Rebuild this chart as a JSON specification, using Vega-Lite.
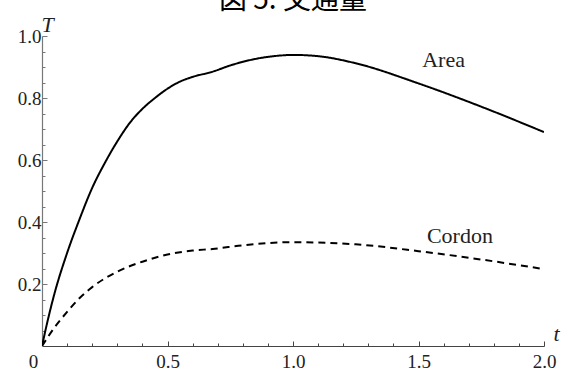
{
  "$schema": "https://vega.github.io/schema/vega-lite/v6.json",
  "autosize": "none",
  "width": 502,
  "height": 310,
  "padding": {"left": 42, "top": 36, "right": 21, "bottom": 22},
  "background": "white",
  "config": {"view": {"stroke": null}, "font": "Liberation Serif"},
  "title": {"text": "図 5: 交通量", "font": "Noto Sans CJK JP", "fontSize": 28, "fontWeight": "normal", "color": "black", "anchor": "middle", "offset": -2},
  "datasets": {
    "curves": [
      {"t": 0, "T": 0, "series": "Area"},
      {"t": 0.025, "T": 0.09, "series": "Area"},
      {"t": 0.05, "T": 0.17, "series": "Area"},
      {"t": 0.1, "T": 0.3, "series": "Area"},
      {"t": 0.15, "T": 0.41, "series": "Area"},
      {"t": 0.2, "T": 0.51, "series": "Area"},
      {"t": 0.25, "T": 0.59, "series": "Area"},
      {"t": 0.3, "T": 0.66, "series": "Area"},
      {"t": 0.35, "T": 0.72, "series": "Area"},
      {"t": 0.4, "T": 0.765, "series": "Area"},
      {"t": 0.45, "T": 0.80, "series": "Area"},
      {"t": 0.5, "T": 0.83, "series": "Area"},
      {"t": 0.55, "T": 0.853, "series": "Area"},
      {"t": 0.6, "T": 0.868, "series": "Area"},
      {"t": 0.68, "T": 0.885, "series": "Area"},
      {"t": 0.75, "T": 0.905, "series": "Area"},
      {"t": 0.85, "T": 0.926, "series": "Area"},
      {"t": 0.95, "T": 0.937, "series": "Area"},
      {"t": 1.0, "T": 0.939, "series": "Area"},
      {"t": 1.1, "T": 0.935, "series": "Area"},
      {"t": 1.25, "T": 0.912, "series": "Area"},
      {"t": 1.5, "T": 0.847, "series": "Area"},
      {"t": 1.75, "T": 0.772, "series": "Area"},
      {"t": 2.0, "T": 0.69, "series": "Area"},
      {"t": 0, "T": 0, "series": "Cordon"},
      {"t": 0.05, "T": 0.06, "series": "Cordon"},
      {"t": 0.1, "T": 0.11, "series": "Cordon"},
      {"t": 0.15, "T": 0.155, "series": "Cordon"},
      {"t": 0.2, "T": 0.19, "series": "Cordon"},
      {"t": 0.3, "T": 0.24, "series": "Cordon"},
      {"t": 0.4, "T": 0.272, "series": "Cordon"},
      {"t": 0.5, "T": 0.295, "series": "Cordon"},
      {"t": 0.6, "T": 0.308, "series": "Cordon"},
      {"t": 0.68, "T": 0.313, "series": "Cordon"},
      {"t": 0.8, "T": 0.325, "series": "Cordon"},
      {"t": 1.0, "T": 0.335, "series": "Cordon"},
      {"t": 1.25, "T": 0.328, "series": "Cordon"},
      {"t": 1.5, "T": 0.306, "series": "Cordon"},
      {"t": 1.75, "T": 0.279, "series": "Cordon"},
      {"t": 2.0, "T": 0.248, "series": "Cordon"}
    ],
    "labels": [
      {"t": 1.6, "T": 0.923, "label": "Area"},
      {"t": 1.665, "T": 0.355, "label": "Cordon"}
    ]
  },
  "resolve": {"axis": {"x": "independent", "y": "independent"}},
  "layer": [
    {
      "data": {"name": "curves"},
      "mark": {"type": "line", "color": "black", "strokeWidth": 2, "interpolate": "monotone", "clip": true},
      "encoding": {
        "x": {
          "field": "t", "type": "quantitative",
          "scale": {"domain": [0, 2], "nice": false, "zero": false},
          "axis": {
            "orient": "bottom",
            "values": [0.5, 1.0, 1.5, 2.0],
            "format": ".1f",
            "grid": false,
            "domainColor": "#444", "domainWidth": 1.2,
            "tickColor": "#444", "tickWidth": 1, "tickSize": -5,
            "labelFont": "Liberation Serif", "labelFontSize": 19, "labelColor": "#222",
            "labelPadding": 11, "labelBaseline": "top", "labelFlush": false, "labelOverlap": false,
            "title": "t", "titleFont": "Liberation Serif", "titleFontStyle": "italic", "titleFontWeight": "normal",
            "titleFontSize": 22, "titleColor": "#222", "titleAngle": 0, "titleAlign": "center", "titleBaseline": "alphabetic",
            "titleX": 514, "titleY": -6
          }
        },
        "y": {
          "field": "T", "type": "quantitative",
          "scale": {"domain": [0, 1], "nice": false},
          "axis": {
            "orient": "left",
            "values": [0.2, 0.4, 0.6, 0.8, 1.0],
            "format": ".1f",
            "grid": false,
            "domainColor": "#777", "domainWidth": 1.2,
            "tickColor": "#777", "tickWidth": 1, "tickSize": -5,
            "labelFont": "Liberation Serif", "labelFontSize": 19, "labelColor": "#222",
            "labelPadding": 6, "labelFlush": false, "labelOverlap": false,
            "title": "T", "titleFont": "Liberation Serif", "titleFontStyle": "italic", "titleFontWeight": "normal",
            "titleFontSize": 22, "titleColor": "#222", "titleAngle": 0, "titleAlign": "center", "titleBaseline": "alphabetic",
            "titleX": 5, "titleY": -5
          }
        },
        "strokeDash": {
          "field": "series", "type": "nominal",
          "scale": {"domain": ["Area", "Cordon"], "range": [[1, 0], [7, 5]]},
          "legend": null
        }
      }
    },
    {
      "data": {"name": "labels"},
      "mark": {"type": "text", "font": "Liberation Serif", "fontSize": 22, "color": "#222", "align": "center", "baseline": "middle"},
      "encoding": {
        "x": {
          "field": "t", "type": "quantitative",
          "axis": {
            "orient": "bottom",
            "values": [0.1, 0.2, 0.3, 0.4, 0.6, 0.7, 0.8, 0.9, 1.1, 1.2, 1.3, 1.4, 1.6, 1.7, 1.8, 1.9],
            "grid": false, "domain": false, "labels": false, "title": null,
            "tickColor": "#444", "tickWidth": 1, "tickSize": -3
          }
        },
        "y": {
          "field": "T", "type": "quantitative",
          "axis": {
            "orient": "left",
            "values": [0.05, 0.1, 0.15, 0.25, 0.3, 0.35, 0.45, 0.5, 0.55, 0.65, 0.7, 0.75, 0.85, 0.9, 0.95],
            "grid": false, "domain": false, "labels": false, "title": null,
            "tickColor": "#777", "tickWidth": 1, "tickSize": -3
          }
        },
        "text": {"field": "label"}
      }
    },
    {
      "data": {"name": "labels"},
      "mark": {"type": "point", "opacity": 0},
      "encoding": {
        "x": {
          "field": "t", "type": "quantitative",
          "axis": {
            "orient": "bottom",
            "values": [0],
            "format": ".0f",
            "grid": false, "domain": false, "ticks": false, "title": null,
            "labelFont": "Liberation Serif", "labelFontSize": 19, "labelColor": "#222",
            "labelPadding": 6, "labelBaseline": "top", "labelFlush": false, "labelOverlap": false,
            "labelOffset": -9
          }
        },
        "y": {"field": "T", "type": "quantitative", "axis": null}
      }
    }
  ]
}
